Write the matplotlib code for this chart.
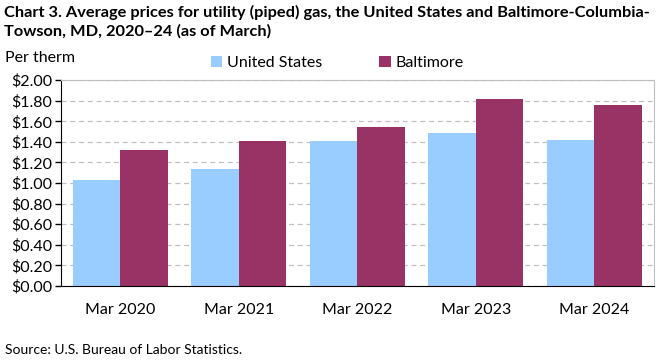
import numpy as np
import matplotlib
matplotlib.use("Agg")
import matplotlib.pyplot as plt
from matplotlib.ticker import FuncFormatter, MultipleLocator

# data
categories = ["Mar 2020", "Mar 2021", "Mar 2022", "Mar 2023", "Mar 2024"]
us_prices = [1.03, 1.14, 1.41, 1.49, 1.42]
baltimore_prices = [1.325, 1.41, 1.54, 1.82, 1.76]
series_names = ["United States", "Baltimore"]

plt.rcParams["font.family"] = ["Lato", "DejaVu Sans"]

fig = plt.figure(figsize=(6.61, 3.61), dpi=100)
ax = fig.add_axes([0.092, 0.208, 0.897, 0.570])

x = np.arange(len(categories))
w = 0.4
ax.bar(x - w / 2, us_prices, w, color="#99CCFF", label=series_names[0], zorder=2)
ax.bar(x + w / 2, baltimore_prices, w, color="#993366", label=series_names[1], zorder=2)

ax.set_xlim(-0.5, len(categories) - 0.5)
ax.set_ylim(0, 2.0)
ax.yaxis.set_major_locator(MultipleLocator(0.2))
ax.yaxis.set_major_formatter(FuncFormatter(lambda v, _: f"${v:.2f}"))
ax.set_xticks(x, categories)
ax.tick_params(axis="x", length=0, pad=12, labelsize=11.5)
ax.tick_params(axis="y", length=4, width=1, labelsize=11.5, pad=2)
ax.grid(axis="y", color="#C0C0C0", linestyle=(0, (4, 3)), linewidth=0.9, zorder=0)

for side in ("top", "right"):
    ax.spines[side].set_color("#BFBFBF")
for side in ("left", "bottom"):
    ax.spines[side].set_color("black")

fig.text(0.006, 0.985, "Chart 3. Average prices for utility (piped) gas, the United States and Baltimore-Columbia-\n"
         "Towson, MD, 2020\u201324 (as of March)", ha="left", va="top",
         fontsize=11.8, fontweight="bold", linespacing=1.3)
fig.text(0.008, 0.84, "Per therm", ha="left", va="center", fontsize=11.5)
fig.legend(loc="center", bbox_to_anchor=(0.51, 0.826), ncol=2, frameon=False,
           fontsize=11.5, handlelength=0.7, handleheight=0.7, columnspacing=3.6,
           handletextpad=0.3)
fig.text(0.008, 0.03, "Source: U.S. Bureau of Labor Statistics.", ha="left", va="center", fontsize=10)

fig.savefig("out.png", dpi=100)
